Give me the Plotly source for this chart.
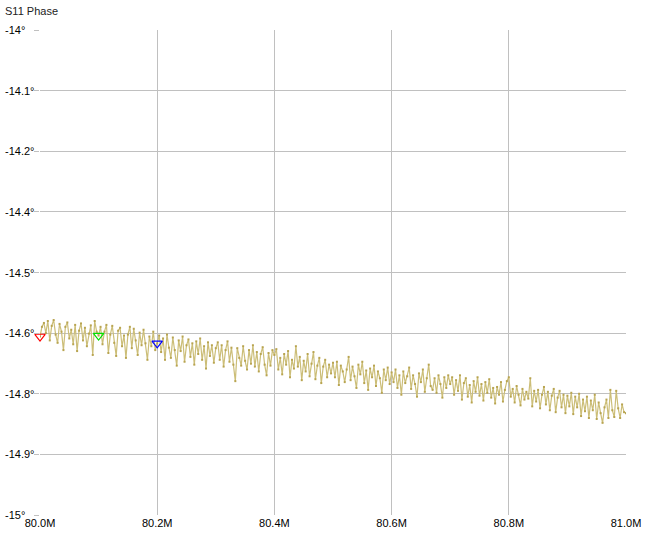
import plotly.graph_objects as go

# Frequency axis: 301 points from 80.0 MHz to 81.0 MHz
f_start_mhz = 80.0
f_stop_mhz = 81.0
n_points = 301

phase_deg = [
    # 80.00 - 80.10
    -14.632, -14.612, -14.604, -14.625, -14.600, -14.640, -14.610, -14.598, -14.628, -14.645,
    -14.606, -14.622, -14.660, -14.612, -14.603, -14.636, -14.618, -14.648, -14.608, -14.662,
    -14.620, -14.605, -14.640, -14.614, -14.652, -14.626, -14.609, -14.670, -14.600, -14.622,
    # 80.10 - 80.20
    -14.630, -14.612, -14.648, -14.622, -14.608, -14.666, -14.628, -14.610, -14.645, -14.672,
    -14.620, -14.614, -14.652, -14.630, -14.676, -14.628, -14.612, -14.656, -14.616, -14.640,
    -14.670, -14.624, -14.650, -14.618, -14.646, -14.680, -14.632, -14.652, -14.622, -14.660,
    # 80.20 - 80.30
    -14.646, -14.630, -14.664, -14.636, -14.680, -14.628, -14.655, -14.676, -14.634, -14.660,
    -14.692, -14.640, -14.662, -14.632, -14.684, -14.650, -14.638, -14.674, -14.646, -14.690,
    -14.642, -14.668, -14.636, -14.680, -14.652, -14.698, -14.644, -14.672, -14.650, -14.686,
    # 80.30 - 80.40
    -14.656, -14.644, -14.680, -14.650, -14.694, -14.660, -14.642, -14.684, -14.655, -14.690,
    -14.724, -14.656, -14.676, -14.692, -14.652, -14.682, -14.700, -14.660, -14.688, -14.650,
    -14.694, -14.664, -14.704, -14.668, -14.654, -14.690, -14.712, -14.666, -14.692, -14.660,
    # 80.40 - 80.50
    -14.670, -14.658, -14.700, -14.676, -14.710, -14.668, -14.690, -14.662, -14.716, -14.680,
    -14.698, -14.652, -14.694, -14.674, -14.722, -14.682, -14.704, -14.668, -14.714, -14.688,
    -14.664, -14.720, -14.692, -14.676, -14.728, -14.694, -14.680, -14.716, -14.690, -14.708,
    # 80.50 - 80.60
    -14.686, -14.716, -14.684, -14.732, -14.692, -14.704, -14.726, -14.700, -14.674, -14.722,
    -14.694, -14.714, -14.738, -14.690, -14.710, -14.684, -14.728, -14.702, -14.742, -14.698,
    -14.716, -14.692, -14.734, -14.704, -14.718, -14.748, -14.700, -14.722, -14.696, -14.730,
    # 80.60 - 80.70
    -14.706, -14.726, -14.700, -14.738, -14.712, -14.752, -14.704, -14.728, -14.714, -14.696,
    -14.740, -14.712, -14.730, -14.756, -14.708, -14.726, -14.700, -14.746, -14.718, -14.690,
    -14.734, -14.742, -14.718, -14.748, -14.712, -14.730, -14.758, -14.716, -14.738, -14.712,
    # 80.70 - 80.80
    -14.730, -14.716, -14.752, -14.722, -14.744, -14.712, -14.762, -14.728, -14.718, -14.756,
    -14.732, -14.768, -14.724, -14.746, -14.716, -14.754, -14.730, -14.764, -14.726, -14.748,
    -14.720, -14.758, -14.738, -14.770, -14.736, -14.752, -14.726, -14.766, -14.742, -14.724,
    # 80.80 - 80.90
    -14.716, -14.756, -14.740, -14.768, -14.734, -14.752, -14.774, -14.740, -14.762, -14.746,
    -14.760, -14.718, -14.776, -14.744, -14.766, -14.742, -14.780, -14.752, -14.736, -14.772,
    -14.746, -14.784, -14.754, -14.740, -14.788, -14.758, -14.744, -14.778, -14.752, -14.790,
    # 80.90 - 81.00
    -14.754, -14.776, -14.748, -14.792, -14.756, -14.778, -14.750, -14.796, -14.762, -14.786,
    -14.756, -14.800, -14.764, -14.784, -14.752, -14.802, -14.768, -14.790, -14.810, -14.778,
    -14.762, -14.800, -14.742, -14.784, -14.798, -14.744, -14.780, -14.800, -14.772, -14.788,
    -14.790,
]

# Marker indices (frequency points) and colours
marker_idx = [0, 30, 60]
marker_colors = ["#ff0000", "#00e000", "#0000ff"]

# Y axis ticks (8 divisions) and their labels as displayed
y_tickvals = [-14.0, -14.125, -14.25, -14.375, -14.5, -14.625, -14.75, -14.875, -15.0]
y_ticktext = ["-14°", "-14.1°", "-14.2°", "-14.4°", "-14.5°", "-14.6°", "-14.8°", "-14.9°", "-15°"]

x_tickvals = [80.0, 80.2, 80.4, 80.6, 80.8, 81.0]
x_ticktext = ["80.0M", "80.2M", "80.4M", "80.6M", "80.8M", "81.0M"]

title_text = "S11 Phase"

freq = [f_start_mhz + (f_stop_mhz - f_start_mhz) * i / (n_points - 1) for i in range(n_points)]

FONT = "Liberation Sans, Arial, sans-serif"
GRID = "#c0c0c0"
PLOT_W = 586  # plot-area width in px (used to place left-side labels)

fig = go.Figure()
fig.add_trace(go.Scatter(
    x=freq, y=phase_deg, mode="lines+markers",
    line=dict(color="rgb(204,190,120)", width=1.2),
    marker=dict(color="rgb(184,164,80)", size=2, symbol="square"),
    showlegend=False, hoverinfo="x+y",
))
for idx, col in zip(marker_idx, marker_colors):
    fig.add_trace(go.Scatter(
        x=[freq[idx]], y=[phase_deg[idx]], mode="markers",
        marker=dict(symbol="triangle-down-open", size=9, color=col, line=dict(width=1.2, color=col)),
        showlegend=False, cliponaxis=False,
    ))

# y tick labels, left-aligned at the left edge of the figure
for v, t in zip(y_tickvals, y_ticktext):
    fig.add_annotation(
        x=-37 / PLOT_W, xref="paper", y=v, yref="y", text=t, showarrow=False,
        xanchor="left", yanchor="middle", font=dict(family=FONT, size=11, color="#000000"),
    )

fig.add_annotation(
    x=-37 / PLOT_W, xref="paper", y=1, yref="paper", text=title_text, showarrow=False,
    xanchor="left", yanchor="bottom", yshift=11, font=dict(family=FONT, size=11, color="#222222"),
)

fig.update_layout(
    width=646, height=535,
    margin=dict(l=40, r=20, t=30, b=20, autoexpand=False),
    paper_bgcolor="white", plot_bgcolor="white",
    font=dict(family=FONT, size=11, color="#000000"),
    xaxis=dict(
        range=[f_start_mhz, f_stop_mhz], tickvals=x_tickvals, ticktext=x_ticktext,
        showgrid=True, gridcolor=GRID, gridwidth=1, zeroline=False, automargin=False,
        showline=False, ticks="", tickfont=dict(family=FONT, size=11),
    ),
    yaxis=dict(
        range=[-15.0, -14.0], tickvals=y_tickvals, ticktext=y_ticktext,
        showgrid=True, gridcolor=GRID, gridwidth=1, zeroline=False, automargin=False,
        showline=False, ticks="outside", ticklen=5, tickcolor=GRID,
        showticklabels=False,
    ),
)

fig.write_html(
    "out.html",
    config={"displayModeBar": False},
    post_script=(
        "document.documentElement.style.margin='0';"
        "document.documentElement.style.overflow='hidden';"
        "document.body.style.margin='0';"
        "document.body.style.padding='0';"
        "document.body.style.overflow='hidden';"
    ),
)
